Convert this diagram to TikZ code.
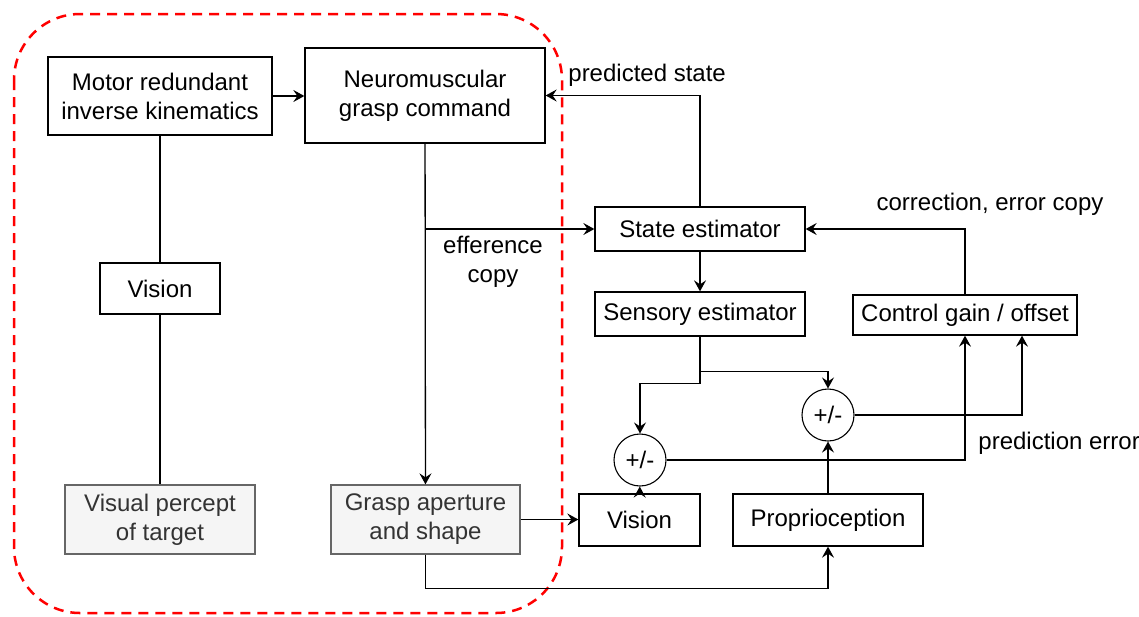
\documentclass[tikz,border=0pt]{standalone}
\usepackage{fontspec}
\setmainfont{Liberation Sans}
\usetikzlibrary{arrows.meta}

\begin{document}
\begin{tikzpicture}[x=0.5pt,y=-0.5pt,
    box/.style={draw,line width=0.65pt,fill=white,align=center,inner sep=0pt,font=\fontsize{12}{14.5}\selectfont},
    greybox/.style={box,fill=black!4,draw=black!60,text=black!80},
    sumnode/.style={draw,circle,line width=0.55pt,fill=white,minimum size=26pt,inner sep=0pt,font=\fontsize{12}{14.5}\selectfont},
    lbl/.style={font=\fontsize{12}{14.5}\selectfont,align=center,inner sep=0pt},
    link/.style={line width=0.65pt},
    arr/.style={link,-{Stealth[length=5.5pt,width=6pt,inset=2pt]}}]
    \useasboundingbox (0,0) rectangle (1139,616);
    % red grouping line
    \draw [red,line width=1.25pt,dash pattern=on 5pt off 3.5pt,rounded corners=33pt] (14,14) rectangle (562,613);
    % boxes on the left
    \node (motor) at (160,96) [box,minimum width=112pt,minimum height=39pt] {Motor redundant\\inverse kinematics};
    \node (neuro) at (425,95.5) [box,minimum width=120pt,minimum height=47.5pt] {Neuromuscular\\grasp command};
    \node (visionL) at (160,288.5) [box,minimum width=60pt,minimum height=25.5pt] {Vision};
    \node (percept) at (160,519.5) [greybox,minimum width=95pt,minimum height=34.5pt] {Visual percept\\of target};
    \node (grasp) at (425.5,519.5) [greybox,minimum width=94.5pt,minimum height=34.5pt] {Grasp aperture\\and shape};
    % estimators
    \node (state) at (700,229) [box,minimum width=105pt,minimum height=22pt] {State estimator};
    \node (sensory) at (700,314) [box,minimum width=105pt,minimum height=22pt] {Sensory estimator};
    \node (control) at (965,315) [box,minimum width=112pt,minimum height=20pt] {Control gain / offset};
    \node (visionR) at (639.5,520) [box,minimum width=60.5pt,minimum height=26pt] {Vision};
    \node (proprio) at (828,520) [box,minimum width=95pt,minimum height=26pt] {Proprioception};
    \node (sumA) at (640,460) [sumnode] {+/-};
    \node (sumB) at (828,415) [sumnode] {+/-};
    % labels
    \node (predlbl) at (568,75) [lbl,anchor=west] {predicted state};
    \node (corrlbl) at (990,204) [lbl] {correction, error copy};
    \node (efflbl) at (493,262) [lbl] {efference\\copy};
    \node (errlbl) at (978,443) [lbl,anchor=west] {prediction error};
    % connectors
    \draw [link] (motor) -- (visionL);
    \draw [link] (visionL) -- (percept);
    \draw [arr] (motor) -- (motor.east -| neuro.west);
    \draw [arr] (neuro) -- (grasp);
    \draw [arr] (neuro.south |- state.west) -- (state.west);
    \draw [arr] (state.north) |- (neuro.east);
    \draw [arr] (state) -- (sensory);
    \draw [arr] (control.north) |- (state.east);
    \coordinate (split) at ([yshift=-17.5pt]sensory.south);
    \draw [arr] (sensory.south) -- ++(0,47) -| (sumA.north);
    \draw [arr] (split) -| (sumB.north);
    \draw [arr] (sumA.east) -| (control.south);
    \draw [arr] (sumB.east) -| ([xshift=28.5pt]control.south);
    \draw [arr] (visionR) -- (sumA);
    \draw [arr] (proprio) -- (sumB);
    \draw [arr] (grasp) -- (grasp.east -| visionR.west);
    \draw [arr] (grasp.south) -- ++(0,34) -| (proprio.south);
\end{tikzpicture}
\end{document}
